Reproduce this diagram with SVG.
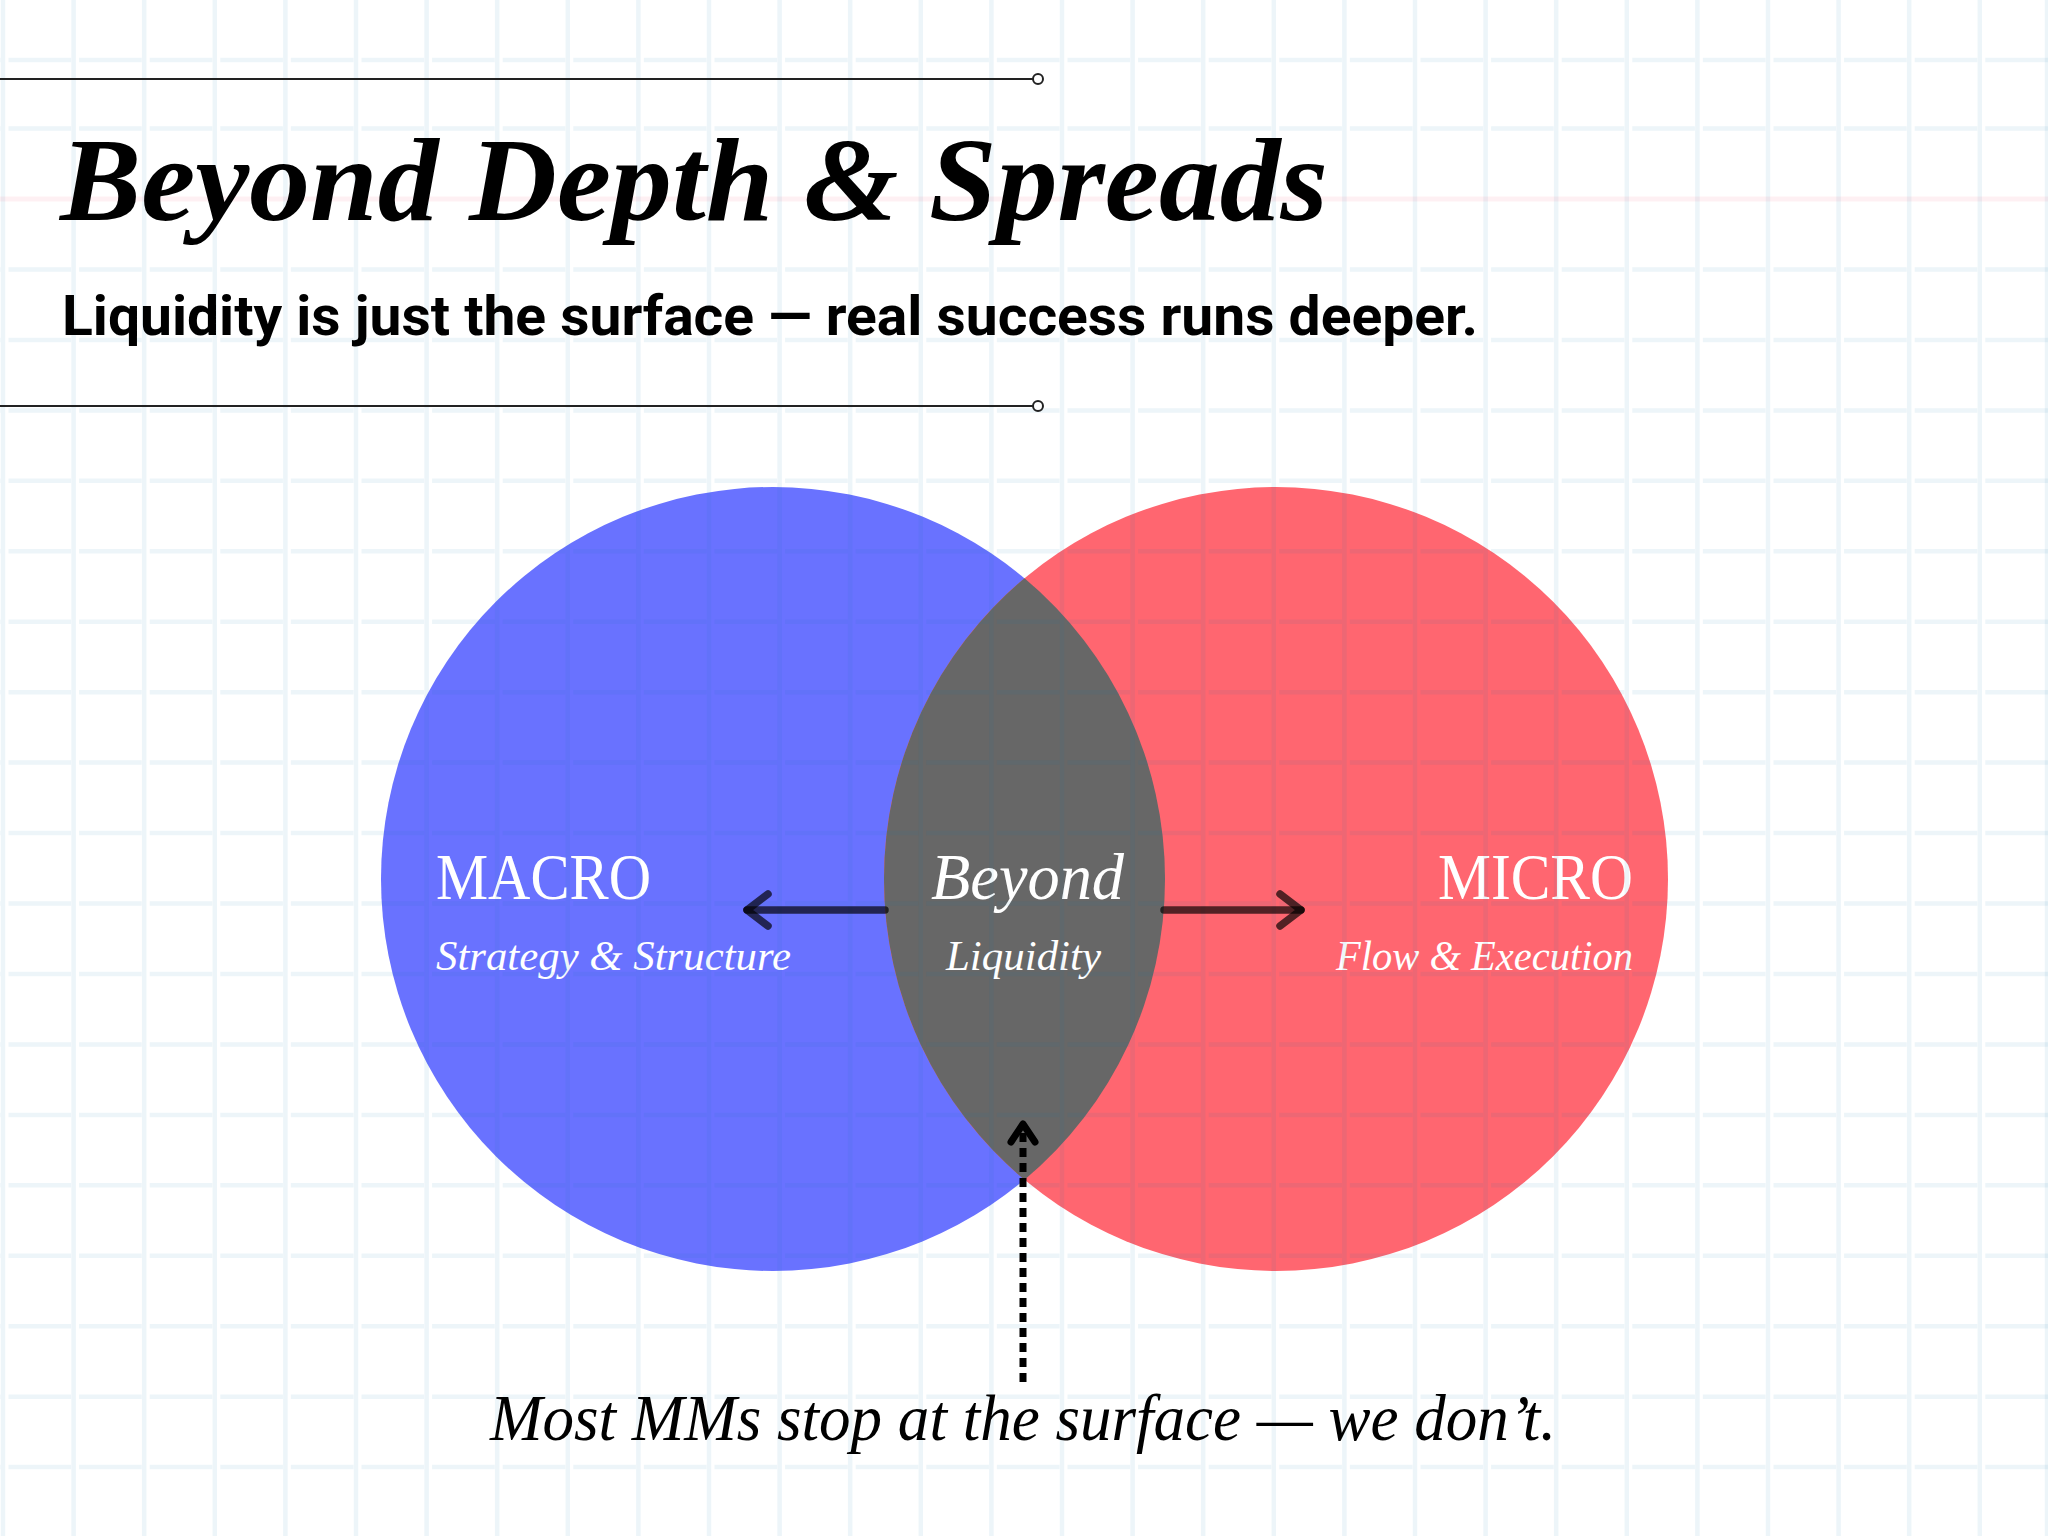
<svg xmlns="http://www.w3.org/2000/svg" width="2048" height="1536" viewBox="0 0 2048 1536">
  <defs>
    <style>
      .rule { stroke: #222222; stroke-width: 2; fill: none; }
      .knob { stroke: #222222; stroke-width: 2; fill: #ffffff; }
      .gridv { stroke: #0A78B4; stroke-opacity: 0.075; stroke-width: 4.5; fill: none; }
      .gridh { stroke: #0A78B4; stroke-opacity: 0.075; stroke-width: 4.5; fill: none; stroke-dasharray: 62.6 8; stroke-dashoffset: 62.1; }
      .pink { stroke: #E8003A; stroke-opacity: 0.06; stroke-width: 5; fill: none; }
      .big { font-family: "Liberation Serif", "DejaVu Serif", serif; font-size: 66px; fill: #ffffff; }
      .bigi { font-family: "Liberation Serif", "DejaVu Serif", serif; font-style: italic; font-size: 66px; fill: #ffffff; }
      .sub { font-family: "Liberation Serif", "DejaVu Serif", serif; font-style: italic; font-size: 42px; fill: #ffffff; }
      .arrow { stroke: #000000; stroke-opacity: 0.68; stroke-width: 7.5; fill: none; stroke-linecap: round; stroke-linejoin: round; }
      .dots { stroke: #000000; stroke-width: 7; fill: none; stroke-dasharray: 9 6; }
      .dothead { stroke: #000000; stroke-width: 7; fill: none; stroke-linecap: round; stroke-linejoin: round; }
    </style>
  </defs>

  <rect x="0" y="0" width="2048" height="1536" fill="#ffffff"/>

  <g id="macro">
    <circle cx="773" cy="879" r="392" fill="#6972FF"/>
    <text class="big" x="436" y="899" textLength="215" lengthAdjust="spacingAndGlyphs">MACRO</text>
    <text class="sub" x="436" y="970" textLength="355" lengthAdjust="spacingAndGlyphs">Strategy &amp; Structure</text>
  </g>

  <g id="micro">
    <circle cx="1276" cy="879" r="392" fill="#FF6670"/>
    <text class="big" x="1438" y="899" textLength="195" lengthAdjust="spacingAndGlyphs">MICRO</text>
    <text class="sub" x="1336" y="970" textLength="297" lengthAdjust="spacingAndGlyphs">Flow &amp; Execution</text>
  </g>

  <g id="beyond">
    <path d="M1024.5 578.3 A392 392 0 0 1 1024.5 1179.7 A392 392 0 0 1 1024.5 578.3 Z" fill="#676767"/>
    <text class="bigi" x="931" y="899" textLength="193" lengthAdjust="spacingAndGlyphs">Beyond</text>
    <text class="sub" x="946" y="970" textLength="155" lengthAdjust="spacingAndGlyphs">Liquidity</text>
  </g>

  <g id="grid">
    <path class="gridv" d="M3 0V1536M73.6 0V1536M144.2 0V1536M214.8 0V1536M285.4 0V1536M356 0V1536M426.6 0V1536M497.2 0V1536M567.8 0V1536M638.4 0V1536M709 0V1536M779.6 0V1536M850.2 0V1536M920.8 0V1536M991.4 0V1536M1062 0V1536M1132.6 0V1536M1203.2 0V1536M1273.8 0V1536M1344.4 0V1536M1415 0V1536M1485.6 0V1536M1556.2 0V1536M1626.8 0V1536M1697.4 0V1536M1768 0V1536M1838.6 0V1536M1909.2 0V1536M1979.8 0V1536M2047 0V1536"/>
    <path class="gridh" d="M0 60H2048M0 128.5H2048M0 269.5H2048M0 339.9H2048M0 410.4H2048M0 480.8H2048M0 551.3H2048M0 621.7H2048M0 692.2H2048M0 762.6H2048M0 833.1H2048M0 903.5H2048M0 974H2048M0 1044.4H2048M0 1114.9H2048M0 1185.3H2048M0 1255.8H2048M0 1326.2H2048M0 1396.7H2048M0 1467.1H2048"/>
    <path class="pink" d="M0 199H2048"/>
  </g>

  <g id="connectors">
    <path class="arrow" d="M885 910H747"/>
    <path class="arrow" d="M768 894L747 910L768 926"/>
    <path class="arrow" d="M1164 910H1301"/>
    <path class="arrow" d="M1280 894L1301 910L1280 926"/>
    <path class="dots" d="M1023 1382V1128"/>
    <path class="dothead" d="M1011 1142L1023 1124L1035 1142"/>
  </g>

  <g id="header">
    <path class="rule" d="M0 79H1033"/>
    <circle class="knob" cx="1038" cy="79" r="5"/>
    <text x="60" y="220" font-family="Liberation Serif, DejaVu Serif, serif" font-weight="700" font-style="italic" font-size="118" fill="#000000" textLength="1268" lengthAdjust="spacingAndGlyphs">Beyond Depth &amp; Spreads</text>
    <text x="62" y="335" font-family="Roboto, 'Open Sans', sans-serif" font-weight="700" font-size="56" fill="#000000" textLength="1416" lengthAdjust="spacingAndGlyphs">Liquidity is just the surface — real success runs deeper.</text>
    <path class="rule" d="M0 406H1033"/>
    <circle class="knob" cx="1038" cy="406" r="5"/>
  </g>

  <g id="footer">
    <text x="490" y="1440" font-family="Liberation Serif, DejaVu Serif, serif" font-style="italic" font-size="65" fill="#000000" textLength="1066" lengthAdjust="spacingAndGlyphs">Most MMs stop at the surface — we don’t.</text>
  </g>
</svg>
